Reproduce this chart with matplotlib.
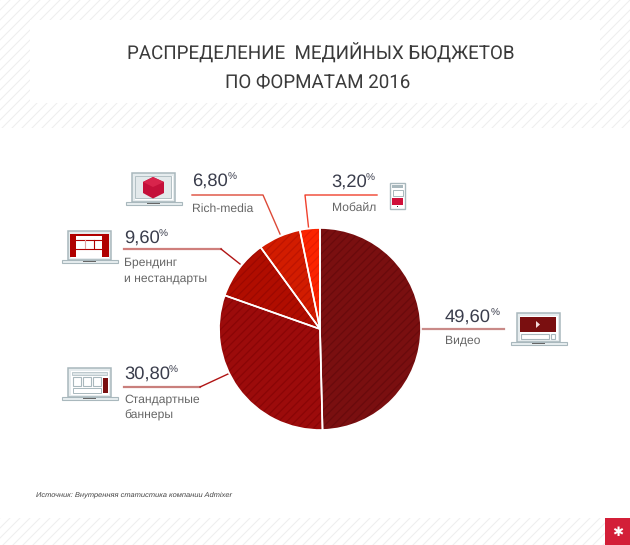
import matplotlib
matplotlib.use('Agg')
import matplotlib.pyplot as plt
from matplotlib.patches import Rectangle, Polygon

W, H = 630, 545

formats = ['Видео', 'Стандартные\nбаннеры', 'Брендинг\nи нестандарты', 'Rich-media', 'Мобайл']
shares = [49.6, 30.8, 9.6, 6.8, 3.2]
colors = ['#7a0f10', '#9c0b0b', '#b00d00', '#d21c00', '#fb2400']
stripes = ['#6a0a0c', '#8a0506', '#9c0800', '#bd1400', '#e81c00']

plt.rcParams['text.hinting'] = 'none'


def box(ax, x, y, w, h, fc='none', ec='none', lw=0.0, z=3):
    ax.add_patch(Rectangle((x, y), w, h, facecolor=fc, edgecolor=ec, linewidth=lw, zorder=z))


def laptop(ax, x, y):
    # body and base, screen contents get drawn on top
    box(ax, x, y, 43, 29, fc='#e6ecee', ec='#a9b8bd', lw=1.1)
    box(ax, x + 2.5, y + 2.5, 38, 24, fc='white', z=3)
    box(ax, x - 6.5, y + 29, 56, 3, fc='#e8eef0', ec='#a9b8bd', lw=0.8)
    box(ax, x + 15, y + 29.5, 13, 1.2, fc='#666666')


def main():
    fig = plt.figure(figsize=(W / 100, H / 100), dpi=100)
    ax = fig.add_axes([0, 0, 1, 1])
    ax.set_xlim(0, W)
    ax.set_ylim(H, 0)
    ax.axis('off')

    # striped bands top and bottom
    for top, bottom, right in [(0, 128, W), (518, H, 605)]:
        clip = Rectangle((0, top), right, bottom - top, transform=ax.transData)
        for x0 in range(-10, W + 140, 10):
            ln, = ax.plot([x0, x0 - (bottom - top)], [top, bottom], color='#efefef', lw=0.8, zorder=1)
            ln.set_clip_path(clip)
    box(ax, 30, 20, 570, 83, fc='white', z=2)

    # no-break space before Б, the plain one gets kerned away in Roboto
    ax.text(320.5, 60, 'РАСПРЕДЕЛЕНИЕ  МЕДИЙНЫХ\u00a0БЮДЖЕТОВ', family='Roboto', fontsize=13.5,
            color='#3a3a3a', ha='center', va='baseline', zorder=4)
    ax.text(318, 87, 'ПО ФОРМАТАМ 2016', family='Roboto', fontsize=13.5,
            color='#3a3a3a', ha='center', va='baseline', zorder=4)

    # pie in its own axes, y axis goes up there
    R = 102
    cx, cy = 320, 329
    pie_ax = fig.add_axes([(cx - R) / W, 1 - (cy + R) / H, 2 * R / W, 2 * R / H])
    plt.rcParams['hatch.linewidth'] = 0.9
    wedges, _ = pie_ax.pie(shares, colors=colors, startangle=90, counterclock=False, radius=1)
    for w, s in zip(wedges, stripes):
        w.set_edgecolor(s)
        w.set_hatch('////')
        w.set_linewidth(0)
    pie_ax.pie(shares, colors=['none'] * 5, startangle=90, counterclock=False, radius=1,
               wedgeprops=dict(edgecolor='white', linewidth=1.2))
    pie_ax.set_xlim(-1.01, 1.01)
    pie_ax.set_ylim(-1.01, 1.01)

    # leader lines
    ax.plot([422, 504], [329, 329], color='#c98a88', lw=1.6, zorder=3)
    ax.plot([124, 200], [387, 387], color='#c97f7c', lw=1.6, zorder=3)
    ax.plot([200, 228], [387, 374], color='#b01414', lw=1.0, zorder=3)
    ax.plot([124, 221], [249, 249], color='#cf7f7c', lw=1.6, zorder=3)
    ax.plot([221, 240], [249, 264], color='#b01414', lw=1.0, zorder=3)
    ax.plot([192, 263, 280], [195, 195, 234], color='#dd4a38', lw=1.0, zorder=3)
    ax.plot([377, 305, 308.5], [195, 195, 227], color='#f0402c', lw=1.0, zorder=3)

    # value + label blocks: (x, baseline, percent x offset, label x, label baseline)
    spots = [(445, 322, 46, 445, 344), (124, 379, 45, 124, 403), (124, 243, 35, 124, 266),
             (192, 186, 36, 192, 212), (331, 187, 35, 332, 212)]
    for share, name, (x, y, off, lx, ly) in zip(shares, formats, spots):
        ax.text(x, y, f'{share:.2f}'.replace('.', ','), family='Liberation Sans', fontsize=13.2,
                color='#3a3d4c', ha='left', va='baseline', zorder=4)
        ax.text(x + off, y - 6, '%', family='Liberation Sans', fontsize=7.3,
                color='#3a3d4c', ha='left', va='baseline', zorder=4)
        for i, part in enumerate(name.split('\n')):
            ax.text(lx, ly + i * 15.5, part, family='Liberation Sans', fontsize=8.7,
                    color='#666666', ha='left', va='baseline', zorder=4)

    # video icon
    laptop(ax, 517, 313)
    box(ax, 520, 317, 36, 15, fc='#7a0f10', z=4)
    ax.add_patch(Polygon([(536, 321), (536, 328), (540, 324.5)], facecolor='#f3dcdc', zorder=5))
    box(ax, 521, 334, 28, 4.5, ec='#a9b8bd', lw=0.8, z=4)
    box(ax, 551, 334, 4, 4.5, ec='#a9b8bd', lw=0.8, z=4)

    # banners icon
    laptop(ax, 68, 368)
    box(ax, 72, 372, 35, 2.5, fc='#dfe6e8', ec='#a9b8bd', lw=0.5, z=4)
    for bx in (73, 82.5, 92.5):
        box(ax, bx, 377, 8, 9, ec='#a9b8bd', lw=0.8, z=4)
    box(ax, 103, 377.5, 4.5, 15.5, fc='#7a0f10', z=4)
    box(ax, 73, 388, 28, 5, ec='#a9b8bd', lw=0.7, z=4)

    # branding icon
    laptop(ax, 68, 231)
    box(ax, 70, 234, 39, 23, fc='#b00000', z=4)
    box(ax, 76, 236, 26, 21, fc='white', z=5)
    ax.plot([76, 102], [239.5, 239.5], color='#b00000', lw=0.8, zorder=6)
    ax.plot([76, 102], [248.5, 248.5], color='#b00000', lw=0.8, zorder=6)
    ax.plot([85, 85], [240, 248], color='#e0a0a0', lw=0.8, zorder=6)
    ax.plot([93.5, 93.5], [240, 248], color='#b00000', lw=0.8, zorder=6)

    # rich media icon
    laptop(ax, 132, 173)
    box(ax, 135, 176, 36, 22, fc='#e3e9eb', ec='#a9b8bd', lw=0.6, z=4)
    ax.add_patch(Polygon([(153, 177), (164, 182), (164, 193), (153, 198.5), (143, 193), (143, 182)],
                         facecolor='#c4103a', zorder=5))
    ax.add_patch(Polygon([(153, 177), (164, 182), (153, 187), (143, 182)], facecolor='#d8244c', zorder=6))

    # phone icon
    ax.add_patch(Rectangle((389.5, 182.5), 15.5, 26, facecolor='white', edgecolor='#a9b8bd', linewidth=1.0, zorder=3))
    box(ax, 392, 185, 11, 2.5, fc='#a9b8bd', z=4)
    box(ax, 392.5, 189.5, 10, 6.5, ec='#a9b8bd', lw=0.7, z=4)
    box(ax, 392, 198, 11, 6.5, fc='#d0103a', z=4)
    box(ax, 397, 206, 1, 1, fc='#333333', z=4)

    ax.text(36, 497, 'Источник: Внутренняя статистика компании Admixer', family='Liberation Sans',
            style='italic', fontsize=5.4, color='#444444', ha='left', va='baseline', zorder=4)

    # corner badge
    box(ax, 605, 518, 25, 27, fc='#d31f38', z=3)
    ax.text(617.5, 532, '✱', family='DejaVu Sans', fontsize=9.5, color='white',
            ha='center', va='center', zorder=4)

    fig.savefig('out.png', dpi=100)


if __name__ == "__main__":
    main()
